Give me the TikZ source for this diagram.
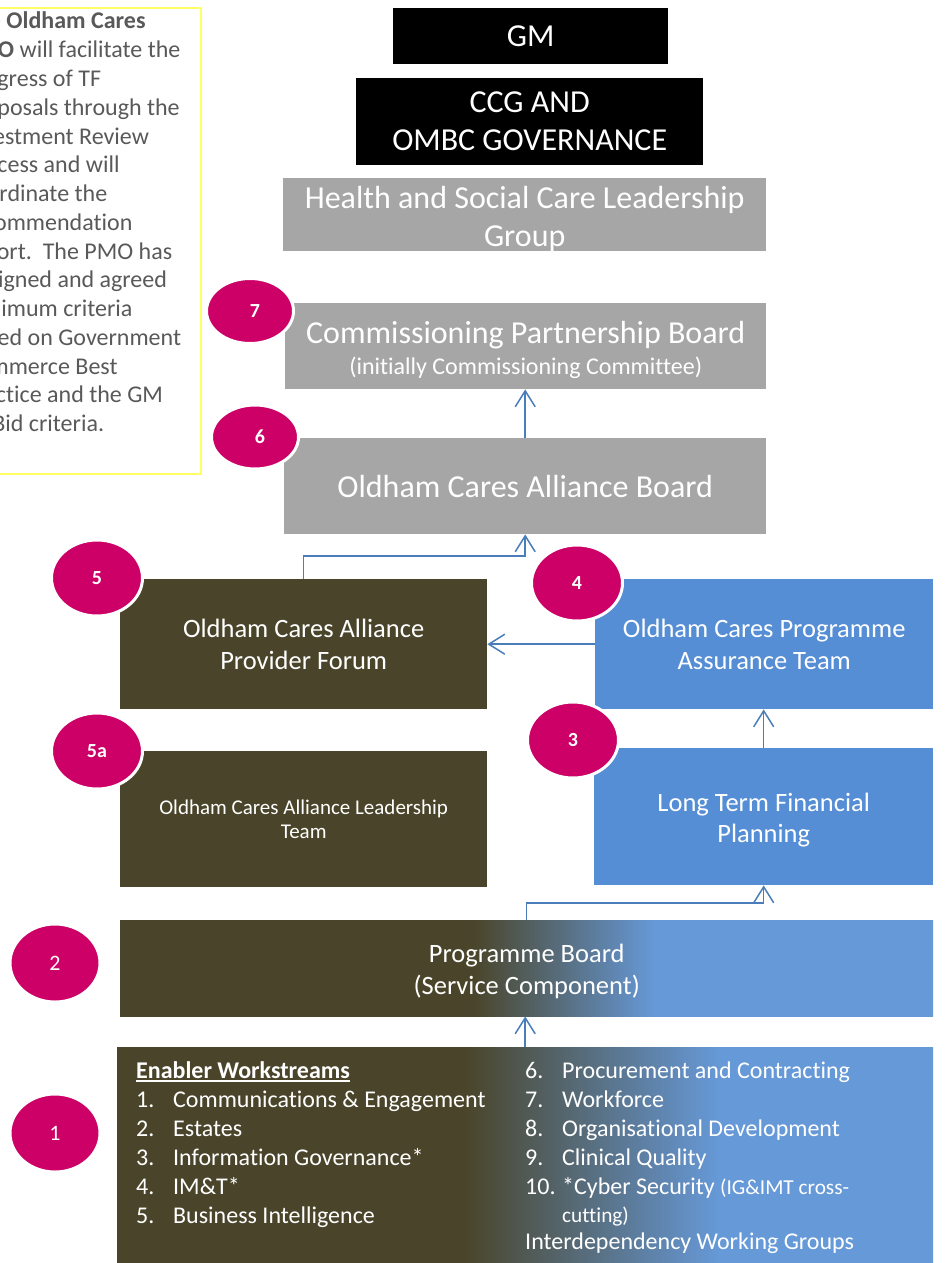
\documentclass[tikz,border=0pt]{standalone}
\usepackage{fontspec}
\setmainfont{Carlito}[Ligatures=NoCommon]
\usetikzlibrary{shapes.geometric,arrows.meta}
\definecolor{myolive}{HTML}{4A452A}
\definecolor{gbox}{HTML}{A6A6A6}
\definecolor{bbox}{HTML}{558ED5}
\definecolor{gblue}{HTML}{6699D8}
\definecolor{mag}{HTML}{CC0066}
\definecolor{arr}{HTML}{4A7EBB}
\definecolor{tgray}{HTML}{595959}
\definecolor{ylw}{HTML}{FFFF66}
\newcommand\fs[2]{\fontsize{#1}{#2}\selectfont}
\newcommand\enitem[2]{\makebox[37pt][l]{#1}#2}
\pgfdeclarehorizontalshading{pbshade}{100bp}{color(0bp)=(myolive); color(46.7bp)=(myolive); color(57.9bp)=(gblue); color(100bp)=(gblue)}
\pgfdeclarehorizontalshading{enshade}{100bp}{color(0bp)=(myolive); color(46.3bp)=(myolive); color(61.9bp)=(gblue); color(100bp)=(gblue)}
\tikzset{
  box/.style={draw=none, inner sep=0pt, anchor=north west, align=center, text=white},
  btext/.style={inner sep=0pt, align=center, text=white},
  badge/.style={ellipse, fill=mag, draw=white, line width=3pt, inner sep=0pt, text=white, font=\bfseries\fs{20}{24}},
  badgeplain/.style={badge, font=\fs{22}{26}},
  conn/.style={draw=arr, line width=1.5pt, -{Straight Barb[length=16pt,width=20pt]}},
  tline/.style={anchor=base west, inner sep=0pt, text=tgray, font=\fs{24}{29}},
  etext/.style={anchor=base west, inner sep=0pt, text=white, font=\fs{24}{29}}
}
\begin{document}
\begin{tikzpicture}[x=1pt,y=-1pt]
\useasboundingbox (0,0) rectangle (945,1263);
\clip (0,0) rectangle (945,1263);

% PMO note (cut at the left edge)
\draw[ylw, line width=1.3pt] (-40,8) rectangle (201,474);
\foreach \txt [count=\i from 0] in {
  {\textbf{The Oldham Cares}},
  {\textbf{PMO} will facilitate the},
  {progress of TF},
  {proposals through the},
  {Investment Review},
  {process and will},
  {coordinate the},
  {recommendation},
  {report.\ \ The PMO has},
  {designed and agreed},
  {minimum criteria},
  {based on Government},
  {Commerce Best},
  {Practice and the GM},
  {TF Bid criteria.}}
  \node[tline] (tl\i) at (-36,{29+28.75*\i}) {\txt};

% boxes
\node[box, fill=black, minimum width=275pt, minimum height=56pt, font=\fs{32}{38}] (gm) at (393,8) {GM};
\node[box, fill=black, minimum width=347pt, minimum height=87pt, font=\fs{32}{38}] (ccg) at (356,78) {CCG AND\\OMBC GOVERNANCE};
\node[box, fill=gbox, minimum width=483pt, minimum height=73pt] (hsc) at (283,178) {};
\node[btext, font=\fs{32}{38}] (hsct) at ([yshift=-4pt]hsc.center) {Health and Social Care Leadership\\Group};
\node[box, fill=gbox, minimum width=481pt, minimum height=86pt] (cpb) at (285,303) {};
\node[btext, font=\fs{32}{30.6}] (cpbt) at ([yshift=-4pt]cpb.center) {Commissioning Partnership Board\\{\fs{24}{30.6}(initially Commissioning Committee)}};
\node[box, fill=gbox, minimum width=482pt, minimum height=96pt, font=\fs{32}{38}] (ocab) at (284,438) {Oldham Cares Alliance Board};
\node[box, fill=myolive, minimum width=367pt, minimum height=130pt, font=\fs{26.5}{32}] (pf) at (120,579) {Oldham Cares Alliance\\Provider Forum};
\node[box, fill=myolive, minimum width=367pt, minimum height=136pt, font=\fs{21}{24}] (lt) at (120,751) {Oldham Cares Alliance Leadership\\Team};
\node[box, fill=bbox, minimum width=338pt, minimum height=130pt, font=\fs{26.5}{32}] (pat) at (595,579) {Oldham Cares Programme\\Assurance Team};
\node[box, fill=bbox, minimum width=339pt, minimum height=137pt] (ltfp) at (594,748) {};
\node[btext, font=\fs{26.5}{31}] (ltfpt) at ([yshift=-3pt]ltfp.center) {Long Term Financial\\Planning};
\node[box, shading=pbshade, minimum width=813pt, minimum height=96pt] (pb) at (120,920) {};
\node[btext, font=\fs{26.5}{32}] (pbt) at ([yshift=-3pt]pb.center) {Programme Board\\(Service Component)};
\node[box, shading=enshade, minimum width=816pt, minimum height=225pt] (en) at (117,1047) {};

% enabler list
\node[etext] (e0) at (136,1078) {\textbf{Enabler Workstreams}};
\draw[white, line width=1.6pt] ([yshift=-3pt]e0.base west) -- ([yshift=-3pt]e0.base east);
\node[etext] (e1) at (136,1107) {\enitem{1.}{Communications \& Engagement}};
\node[etext] (e2) at (136,1136) {\enitem{2.}{Estates}};
\node[etext] (e3) at (136,1165) {\enitem{3.}{Information Governance*}};
\node[etext] (e4) at (136,1194) {\enitem{4.}{IM\&T*}};
\node[etext] (e5) at (136,1223) {\enitem{5.}{Business Intelligence}};
\node[etext] (e6) at (525,1078) {\enitem{6.}{Procurement and Contracting}};
\node[etext] (e7) at (525,1107) {\enitem{7.}{Workforce}};
\node[etext] (e8) at (525,1136) {\enitem{8.}{Organisational Development}};
\node[etext] (e9) at (525,1165) {\enitem{9.}{Clinical Quality}};
\node[etext] (e10) at (525,1194) {\enitem{10.}{*Cyber Security {\fs{21.3}{25}(IG\&IMT cross-}}};
\node[etext, font=\fs{21.3}{25}] (e10b) at (562,1222) {cutting)};
\node[etext] (e11) at (525,1249) {Interdependency Working Groups};

% badges
\node[badge, minimum width=87pt, minimum height=65pt] (b7) at (250,311) {\hspace*{10pt}7};
\node[badge, minimum width=87pt, minimum height=64pt] (b6) at (255,437) {\hspace*{10pt}6};
\node[badge, minimum width=91pt, minimum height=76pt] (b5) at (97,578) {5};
\node[badge, minimum width=91pt, minimum height=76pt] (b5a) at (97,751) {5a};
\node[badge, minimum width=91pt, minimum height=76pt] (b4) at (577,583) {4};
\node[badge, minimum width=91pt, minimum height=76pt] (b3) at (573,740) {3};
\node[badgeplain, minimum width=90pt, minimum height=78pt] (b2) at (55,963) {2};
\node[badgeplain, minimum width=90pt, minimum height=78pt] (b1) at (55,1133) {1};

% connectors
\draw[conn] (ocab.north) -- (ocab.north |- cpb.south);
\draw[conn] (pf.north) -- ++(0,-23) -| (ocab.south);
\draw[conn] (pat.west) -- (pat.west -| pf.east);
\draw[conn] (ltfp.north) -- (ltfp.north |- pat.south);
\draw[conn] (pb.north) -- ++(0,-17) -| (ltfp.south);
\draw[conn] (en.north) -- (en.north |- pb.south);
\end{tikzpicture}
\end{document}
